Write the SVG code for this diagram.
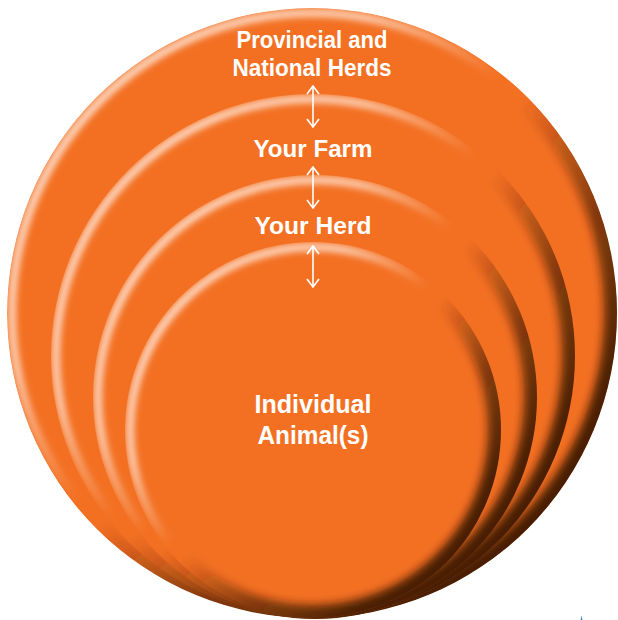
<svg xmlns="http://www.w3.org/2000/svg" width="618" height="620" viewBox="0 0 618 620">
<style>
.disc{fill:#F37022}
.hl{fill:none;stroke:url(#hlGrad);stroke-width:8;filter:url(#soft)}
.sh{fill:none;stroke:url(#shGrad);stroke-width:26;filter:url(#softer)}
.lbl{font-family:"Liberation Sans",Arial,sans-serif;font-weight:bold;fill:#ffffff;text-anchor:middle}
.conn{stroke:#ffffff;stroke-width:1.6;fill:none;marker-start:url(#head);marker-end:url(#head)}
</style>
<defs>
<linearGradient id="hlGrad" x1="0" y1="0" x2="1" y2="1">
<stop offset="0" stop-color="#FFE9DC" stop-opacity="0.95"/>
<stop offset="0.3" stop-color="#FFE3D2" stop-opacity="0.8"/>
<stop offset="0.46" stop-color="#FFE3D2" stop-opacity="0"/>
<stop offset="1" stop-color="#FFE3D2" stop-opacity="0"/>
</linearGradient>
<linearGradient id="shGrad" x1="0" y1="0" x2="1" y2="1">
<stop offset="0" stop-color="#3A1805" stop-opacity="0"/>
<stop offset="0.5" stop-color="#3A1805" stop-opacity="0"/>
<stop offset="0.65" stop-color="#3A1805" stop-opacity="0.6"/>
<stop offset="0.8" stop-color="#3A1805" stop-opacity="0.9"/>
<stop offset="1" stop-color="#3A1805" stop-opacity="1"/>
</linearGradient>
<filter id="soft" x="-10%" y="-10%" width="120%" height="120%"><feGaussianBlur stdDeviation="3"/></filter>
<filter id="softer" x="-10%" y="-10%" width="120%" height="120%"><feGaussianBlur stdDeviation="4"/></filter>
<clipPath id="c1"><circle cx="312" cy="313" r="305"/></clipPath>
<clipPath id="c2"><circle cx="313" cy="356" r="262"/></clipPath>
<clipPath id="c3"><circle cx="315" cy="397" r="222"/></clipPath>
<clipPath id="c4"><circle cx="313" cy="430" r="188"/></clipPath>
<marker id="head" viewBox="0 0 10 14" refX="9" refY="7" markerWidth="10" markerHeight="14" markerUnits="userSpaceOnUse" orient="auto-start-reverse">
<path d="M1,1 L9,7 L1,13" fill="none" stroke="#ffffff" stroke-width="1.6"/>
</marker>
</defs>

<g id="node-provincial-national">
<g clip-path="url(#c1)">
<circle class="disc" cx="312" cy="313" r="305"/>
<circle class="sh" cx="312" cy="313" r="305"/>
<circle class="hl" cx="312" cy="313" r="300"/>
</g>
<text class="lbl" x="312" y="48" font-size="23" textLength="151" lengthAdjust="spacingAndGlyphs">Provincial and</text>
<text class="lbl" x="312" y="76" font-size="23" textLength="159" lengthAdjust="spacingAndGlyphs">National Herds</text>
</g>

<g id="node-your-farm">
<g clip-path="url(#c2)">
<circle class="disc" cx="313" cy="356" r="262"/>
<circle class="sh" cx="313" cy="356" r="262"/>
<circle class="hl" cx="313" cy="356" r="257"/>
</g>
<text class="lbl" x="313" y="157" font-size="24" textLength="119" lengthAdjust="spacingAndGlyphs">Your Farm</text>
</g>

<g id="node-your-herd">
<g clip-path="url(#c3)">
<circle class="disc" cx="315" cy="397" r="222"/>
<circle class="sh" cx="315" cy="397" r="222"/>
<circle class="hl" cx="315" cy="397" r="217"/>
</g>
<text class="lbl" x="313" y="234" font-size="24" textLength="117" lengthAdjust="spacingAndGlyphs">Your Herd</text>
</g>

<g id="node-individual-animals">
<g clip-path="url(#c4)">
<circle class="disc" cx="313" cy="430" r="188"/>
<circle class="sh" cx="313" cy="430" r="188"/>
<circle class="hl" cx="313" cy="430" r="183"/>
</g>
<text class="lbl" x="313" y="413" font-size="25" textLength="117" lengthAdjust="spacingAndGlyphs">Individual</text>
<text class="lbl" x="313" y="444" font-size="25" textLength="111" lengthAdjust="spacingAndGlyphs">Animal(s)</text>
</g>

<g id="connectors">
<line class="conn" x1="313" y1="86" x2="313" y2="127"/>
<line class="conn" x1="313" y1="167" x2="313" y2="208"/>
<line class="conn" x1="313" y1="246" x2="313" y2="287"/>
</g>

<path d="M580.5,620 L581.5,615.5 L582.5,620 Z" fill="#4A8CB0"/>
</svg>
